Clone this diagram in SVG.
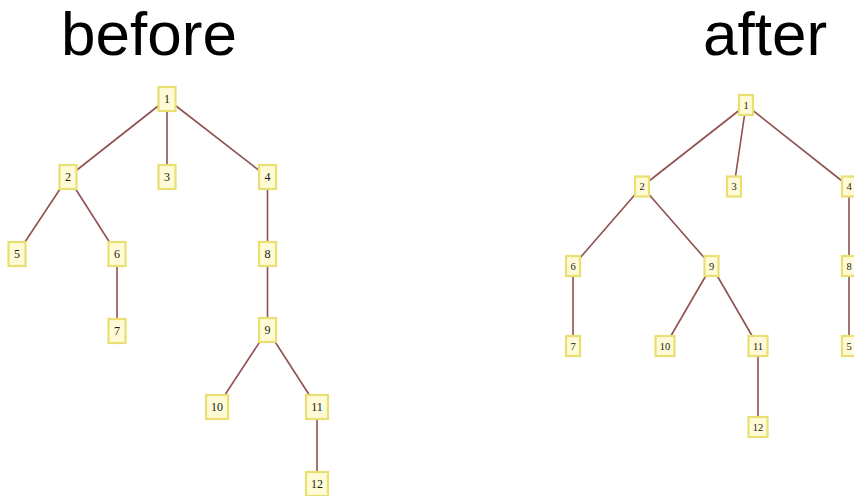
<svg xmlns="http://www.w3.org/2000/svg" width="854" height="496" viewBox="0 0 854 496">
<style>
.title{font-family:"Liberation Sans",Arial,sans-serif;font-size:62px;fill:#000;text-anchor:middle}
.e line{stroke:#8e5050;stroke-width:1.6}
.n rect{fill:#fffbd6;stroke:#e9df72;stroke-width:2.2}
.n text{font-family:"Liberation Serif","Times New Roman",serif;fill:#1a1a1a;text-anchor:middle;dominant-baseline:central}
.b text{font-size:12px}
.a text{font-size:10.5px}
</style>
<rect width="854" height="496" fill="#fff"/>
<text class="title" x="149" y="55">before</text>
<text class="title" x="765" y="55">after</text>
<g id="before-edges" class="e">
<line x1="167" y1="99" x2="68" y2="177"/>
<line x1="167" y1="99" x2="167" y2="177"/>
<line x1="167" y1="99" x2="267.5" y2="177"/>
<line x1="68" y1="177" x2="17" y2="254"/>
<line x1="68" y1="177" x2="117" y2="254"/>
<line x1="117" y1="254" x2="117" y2="331"/>
<line x1="267.5" y1="177" x2="267.5" y2="254"/>
<line x1="267.5" y1="254" x2="267.5" y2="330"/>
<line x1="267.5" y1="330" x2="217" y2="407"/>
<line x1="267.5" y1="330" x2="317" y2="407"/>
<line x1="317" y1="407" x2="317" y2="484"/>
</g>
<g id="after-edges" class="e">
<line x1="746" y1="105" x2="642" y2="186.5"/>
<line x1="746" y1="105" x2="734" y2="186.5"/>
<line x1="746" y1="105" x2="849" y2="186.5"/>
<line x1="642" y1="186.5" x2="573" y2="266"/>
<line x1="642" y1="186.5" x2="711.5" y2="266"/>
<line x1="573" y1="266" x2="573" y2="346"/>
<line x1="711.5" y1="266" x2="665" y2="346"/>
<line x1="711.5" y1="266" x2="758" y2="346"/>
<line x1="758" y1="346" x2="758" y2="427"/>
<line x1="849" y1="186.5" x2="849" y2="266"/>
<line x1="849" y1="266" x2="849" y2="346"/>
</g>
<g class="n b">
<g id="b1"><rect x="158.5" y="87" width="17" height="24"/><text x="167" y="99">1</text></g>
<g id="b2"><rect x="59.5" y="165" width="17" height="24"/><text x="68" y="177">2</text></g>
<g id="b3"><rect x="158.5" y="165" width="17" height="24"/><text x="167" y="177">3</text></g>
<g id="b4"><rect x="259" y="165" width="17" height="24"/><text x="267.5" y="177">4</text></g>
<g id="b5"><rect x="8.5" y="242" width="17" height="24"/><text x="17" y="254">5</text></g>
<g id="b6"><rect x="108.5" y="242" width="17" height="24"/><text x="117" y="254">6</text></g>
<g id="b7"><rect x="108.5" y="319" width="17" height="24"/><text x="117" y="331">7</text></g>
<g id="b8"><rect x="259" y="242" width="17" height="24"/><text x="267.5" y="254">8</text></g>
<g id="b9"><rect x="259" y="318" width="17" height="24"/><text x="267.5" y="330">9</text></g>
<g id="b10"><rect x="206" y="395" width="22" height="24"/><text x="217" y="407">10</text></g>
<g id="b11"><rect x="306" y="395" width="22" height="24"/><text x="317" y="407">11</text></g>
<g id="b12"><rect x="306" y="472" width="22" height="24"/><text x="317" y="484">12</text></g>
</g>
<g class="n a">
<g id="a1"><rect x="739" y="95" width="14" height="20"/><text x="746" y="105">1</text></g>
<g id="a2"><rect x="635" y="176.5" width="14" height="20"/><text x="642" y="186.5">2</text></g>
<g id="a3"><rect x="727" y="176.5" width="14" height="20"/><text x="734" y="186.5">3</text></g>
<g id="a4"><rect x="842" y="176.5" width="14" height="20"/><text x="849" y="186.5">4</text></g>
<g id="a6"><rect x="566" y="256" width="14" height="20"/><text x="573" y="266">6</text></g>
<g id="a9"><rect x="704.5" y="256" width="14" height="20"/><text x="711.5" y="266">9</text></g>
<g id="a8"><rect x="842" y="256" width="14" height="20"/><text x="849" y="266">8</text></g>
<g id="a7"><rect x="566" y="336" width="14" height="20"/><text x="573" y="346">7</text></g>
<g id="a10"><rect x="655.5" y="336" width="19" height="20"/><text x="665" y="346">10</text></g>
<g id="a11"><rect x="748.5" y="336" width="19" height="20"/><text x="758" y="346">11</text></g>
<g id="a5"><rect x="842" y="336" width="14" height="20"/><text x="849" y="346">5</text></g>
<g id="a12"><rect x="748.5" y="417" width="19" height="20"/><text x="758" y="427">12</text></g>
</g>
</svg>
